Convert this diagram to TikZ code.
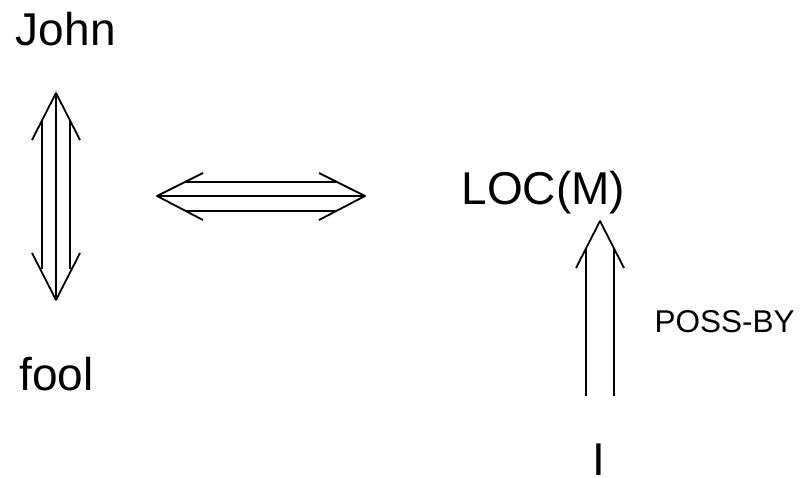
\documentclass[tikz,border=0pt]{standalone}
\usepackage{fontspec}
\setmainfont{Liberation Sans}
\begin{document}
\begin{tikzpicture}[x=1pt,y=-1pt,
  lbl/.style={inner sep=0pt,outer sep=0pt,font=\fontsize{46}{50}\selectfont},
  smalllbl/.style={inner sep=0pt,outer sep=0pt,font=\fontsize{31.5}{34}\selectfont},
  shaft/.style={line width=1.8pt},
  head/.style={line width=1.8pt,line join=round,line cap=butt}]
\useasboundingbox (0,0) rectangle (802,478);
% labels
\node[lbl,anchor=base west] (john) at (16,46) {John};
\node[lbl,anchor=base west] (fool) at (19.5,390) {fool};
\node[lbl,anchor=base west] (loc) at (461.6,205) {LOC(M)};
\node[smalllbl,anchor=base west] (poss) at (654.6,332.5) {POSS-BY};
\node[lbl,anchor=base] (i) at (599,475) {I};
% left vertical double arrow (John <=> fool)
\coordinate (vt) at (56,93);
\coordinate (vb) at (56,300);
\draw[shaft] (vt) -- (vb);
\draw[shaft] (42,121) -- (42,269);
\draw[shaft] (70,121) -- (70,269);
\draw[head] (32,140) -- (vt) -- (80,140);
\draw[head] (32,253) -- (vb) -- (80,253);
% horizontal double arrow
\coordinate (hl) at (157,196);
\coordinate (hr) at (365,196);
\draw[shaft] (hl) -- (hr);
\draw[shaft] (186,182) -- (336,182);
\draw[shaft] (186,211) -- (336,211);
\draw[head] (203,173) -- (hl) -- (203,220);
\draw[head] (319,173) -- (hr) -- (319,220);
% right arrow I => LOC(M)
\coordinate (rt) at (600,221);
\draw[shaft] (586,249) -- (586,396);
\draw[shaft] (614,249) -- (614,396);
\draw[head] (576,268) -- (rt) -- (624,268);
\end{tikzpicture}
\end{document}
